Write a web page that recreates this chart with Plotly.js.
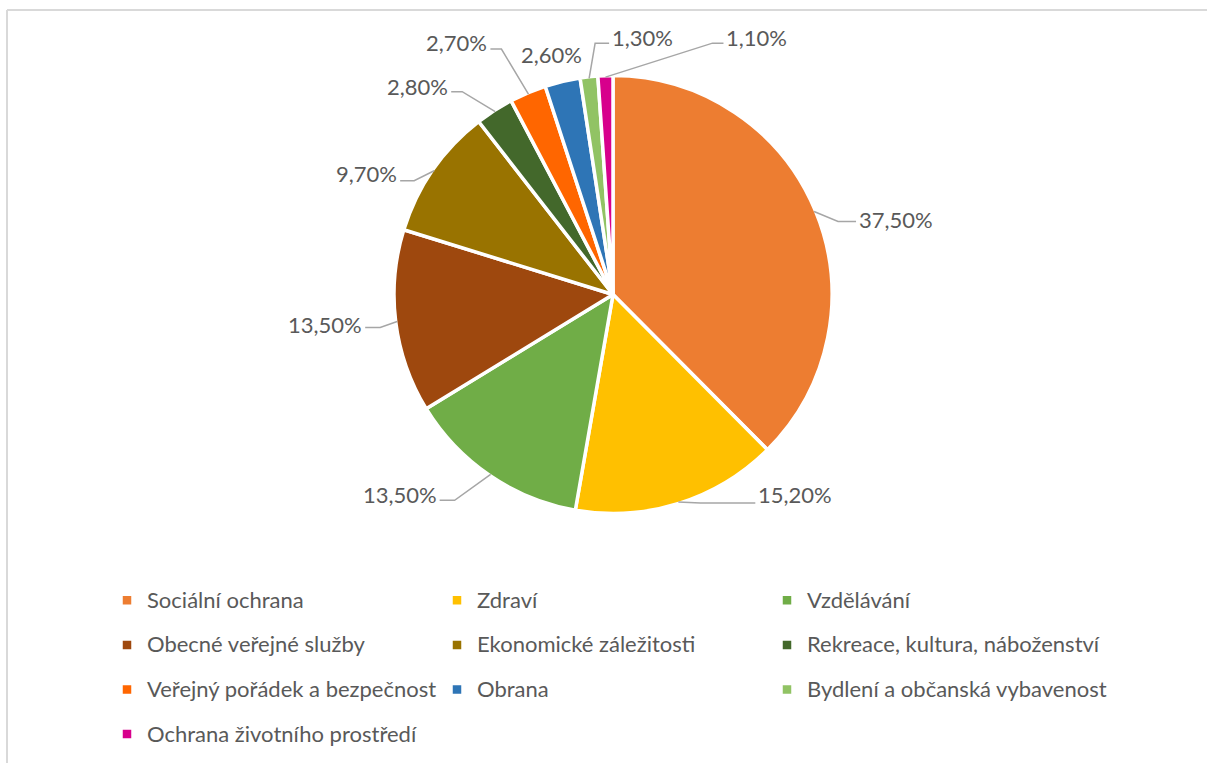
<!DOCTYPE html>
<html>
<head>
<meta charset="utf-8">
<script src="https://cdn.plot.ly/plotly-3.0.1.min.js"></script>
<style>
  html, body { margin: 0; padding: 0; background: #fff; }
  #chart { width: 1207px; height: 763px; }
</style>
</head>
<body>
<div id="chart"></div>
<script>
// ---- data ----
const categories = [
  "Sociální ochrana",
  "Zdraví",
  "Vzdělávání",
  "Obecné veřejné služby",
  "Ekonomické záležitosti",
  "Rekreace, kultura, náboženství",
  "Veřejný pořádek a bezpečnost",
  "Obrana",
  "Bydlení a občanská vybavenost",
  "Ochrana životního prostředí"
];
const values = [37.5, 15.2, 13.5, 13.5, 9.7, 2.8, 2.7, 2.6, 1.3, 1.1];
const colors = [
  "#ED7D31", "#FFC000", "#70AD47", "#9E480E", "#997300",
  "#43682B", "#FF6600", "#2E75B6", "#91C364", "#D7008C"
];

// ---- label layout (style only): [elbowDx, elbowDy, endDx, textDy] in px, relative to slice edge point
const labelLayout = [
  [24, 10, 42, -2],
  [22, 1, 77, -8],
  [-36, 26, -51, -6],
  [-17, 6, -32, -3],
  [-20, 10, -34, -7],
  [-33, -20, -44, -5],
  [-27, -45, -38, -7],
  null,
  [6, -35, 20, -6],
  [107, -34, 118, -6]
];
const freeLabel = [null, null, null, null, null, null, null, [-11, -28], null, null];

// ---- geometry ----
const W = 1207, H = 763;
const cx = 613, cy = 294.5, R = 219;
const px = x => x / W;
const py = y => 1 - y / H;

const fmt = v => v.toFixed(2).replace('.', ',') + '%';
const total = values.reduce((a, b) => a + b, 0);

const labelFont = { family: 'Lato, sans-serif', size: 22, color: '#595959' };
const shapes = [];
const annotations = [];
let cum = 0;
const rEdge = R - 1.5;
values.forEach((v, i) => {
  const mid = (cum + v / 2) / total * 2 * Math.PI;
  cum += v;
  const ex = cx + rEdge * Math.sin(mid);
  const ey = cy - rEdge * Math.cos(mid);
  const L = labelLayout[i];
  if (L) {
    const [edx, edy, endx, tdy] = L;
    const x1 = ex + edx, y1 = ey + edy, x2 = ex + endx;
    shapes.push({
      type: 'path', xref: 'paper', yref: 'paper',
      path: `M ${px(ex)} ${py(ey)} L ${px(x1)} ${py(y1)} L ${px(x2)} ${py(y1)}`,
      line: { color: '#A6A6A6', width: 1.5 }
    });
    const right = endx > edx;
    annotations.push({
      xref: 'paper', yref: 'paper',
      x: px(x2 + (right ? 1 : -1)), y: py(y1 + tdy),
      xanchor: right ? 'left' : 'right', yanchor: 'middle',
      text: fmt(v), showarrow: false, font: labelFont
    });
  } else {
    const F = freeLabel[i];
    annotations.push({
      xref: 'paper', yref: 'paper',
      x: px(ex + F[0]), y: py(ey + F[1]),
      xanchor: 'center', yanchor: 'middle',
      text: fmt(v), showarrow: false, font: labelFont
    });
  }
});

// frame (top and left border of the chart area)
shapes.push({ type: 'line', xref: 'paper', yref: 'paper', x0: px(7), x1: 1, y0: py(10), y1: py(10), line: { color: '#D9D9D9', width: 2 } });
shapes.push({ type: 'line', xref: 'paper', yref: 'paper', x0: px(7), x1: px(7), y0: py(10), y1: 0, line: { color: '#D9D9D9', width: 2 } });

const legendLabels = categories.map(c => `<span style="font-size:22px;baseline-shift:5px">${c}</span>`);

const trace = {
  type: 'pie',
  labels: legendLabels,
  values: values,
  sort: false,
  direction: 'clockwise',
  rotation: 0,
  textinfo: 'none',
  hoverinfo: 'none',
  marker: { colors: colors, line: { color: '#FFFFFF', width: 3.5 } },
  domain: { x: [px(cx - R), px(cx + R)], y: [py(cy + R), py(cy - R)] },
  showlegend: true
};

const layout = {
  width: W, height: H,
  margin: { l: 0, r: 0, t: 0, b: 0, autoexpand: false },
  paper_bgcolor: '#FFFFFF',
  font: { family: 'Lato, sans-serif', color: '#595959' },
  showlegend: true,
  legend: {
    orientation: 'h',
    x: px(107), y: py(573), xanchor: 'left', yanchor: 'top',
    entrywidth: 285, entrywidthmode: 'pixels',
    font: { family: 'Lato, sans-serif', size: 32, color: '#595959' },
    traceorder: 'normal'
  },
  shapes: shapes,
  annotations: annotations
};

Plotly.newPlot('chart', [trace], layout, { displayModeBar: false, staticPlot: true }).then(gd => {
  // let the last legend column's longer entries show in full
  gd.querySelectorAll('.legend .scrollbox, .legend').forEach(el => el.removeAttribute('clip-path'));
});
</script>
</body>
</html>
